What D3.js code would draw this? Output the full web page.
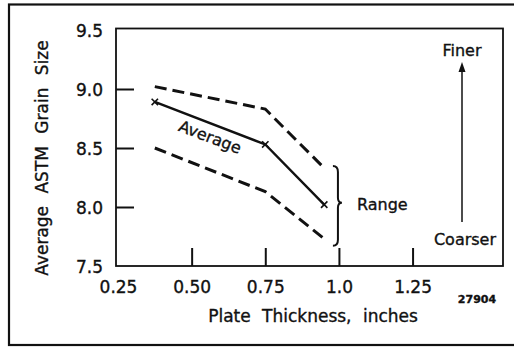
<!DOCTYPE html>
<html>
<head>
<meta charset="utf-8">
<script src="https://cdn.jsdelivr.net/npm/d3@7"></script>
<style>
  html, body { margin: 0; padding: 0; background: #fff; }
  svg { display: block; }
  text { font-family: "DejaVu Sans", sans-serif; fill: #111; stroke: #111; stroke-width: 0.35px; }
</style>
</head>
<body>
<svg id="chart" width="514" height="347"></svg>
<script>
// Plate thickness (inches) and grain size measurements
const thickness = [0.375, 0.75, 0.95];
const averageGrain = [8.89, 8.53, 8.02];
const upperRange = [9.02, 8.83, 8.33];
const lowerRange = [8.50, 8.13, 7.73];
const xTicks = [0.25, 0.50, 0.75, 1.0, 1.25];
const xTickLabels = ["0.25", "0.50", "0.75", "1.0", "1.25"];
const yTicks = [7.5, 8.0, 8.5, 9.0, 9.5];
const yTickLabels = ["7.5", "8.0", "8.5", "9.0", "9.5"];

const svg = d3.select("#chart");
const ink = "#111";

// outer frame
svg.append("rect")
  .attr("x", 9).attr("y", 4.5).attr("width", 520).attr("height", 340.5)
  .attr("fill", "none").attr("stroke", ink).attr("stroke-width", 2.2);

const plot = { left: 116, right: 503, top: 28.5, bottom: 266 };

const x = d3.scaleLinear().domain([0.25, 1.557]).range([plot.left + 2, plot.right]);
const y = d3.scaleLinear().domain([7.5, 9.5]).range([plot.bottom, 30]);

// plot box
svg.append("rect")
  .attr("x", plot.left).attr("y", plot.top)
  .attr("width", plot.right - plot.left).attr("height", plot.bottom - plot.top)
  .attr("fill", "none").attr("stroke", ink).attr("stroke-width", 1.8);

// x axis: inward ticks, labels below
const xAxis = d3.axisBottom(x).tickValues(xTicks)
  .tickSize(-18).tickPadding(26)
  .tickFormat((d, i) => xTickLabels[i]);
const gx = svg.append("g").attr("transform", `translate(0,${plot.bottom})`).call(xAxis);
gx.select(".domain").remove();
gx.selectAll(".tick line").attr("stroke", ink).attr("stroke-width", 2)
  .filter(d => d === 0.25).remove();
gx.selectAll(".tick text").attr("font-size", 17).attr("fill", ink)
  .attr("font-family", "DejaVu Sans, sans-serif").attr("dy", 0).attr("y", 27);

// y axis: inward ticks, labels left
const yAxis = d3.axisLeft(y).tickValues(yTicks)
  .tickSize(-18).tickPadding(13)
  .tickFormat((d, i) => yTickLabels[i]);
const gy = svg.append("g").attr("transform", `translate(${plot.left},0)`).call(yAxis);
gy.select(".domain").remove();
gy.selectAll(".tick line").attr("stroke", ink).attr("stroke-width", 2)
  .filter(d => d === 7.5 || d === 9.5).remove();
gy.selectAll(".tick text").attr("font-size", 17).attr("fill", ink)
  .attr("font-family", "DejaVu Sans, sans-serif").attr("dy", "0.36em");

// axis titles
svg.append("text")
  .attr("x", 313).attr("y", 322).attr("text-anchor", "middle")
  .attr("font-size", 17).attr("word-spacing", 6)
  .text("Plate Thickness, inches");
svg.append("text")
  .attr("transform", "translate(48,158) rotate(-90)")
  .attr("text-anchor", "middle").attr("font-size", 17).attr("word-spacing", 7)
  .text("Average ASTM Grain Size");

svg.append("text")
  .attr("x", 477).attr("y", 303).attr("text-anchor", "middle")
  .attr("font-size", 11).attr("font-weight", "bold")
  .text("27904");

// data lines
const line = vals => d3.line()
  .x((d, i) => x(thickness[i]))
  .y(d => y(d))(vals);

svg.append("path").attr("d", line(upperRange))
  .attr("fill", "none").attr("stroke", ink).attr("stroke-width", 3)
  .attr("stroke-dasharray", "12 6");
svg.append("path").attr("d", line(lowerRange))
  .attr("fill", "none").attr("stroke", ink).attr("stroke-width", 3)
  .attr("stroke-dasharray", "12 6");
svg.append("path").attr("d", line(averageGrain))
  .attr("fill", "none").attr("stroke", ink).attr("stroke-width", 2.4);

// x markers at average points
const m = 3.2;
svg.selectAll("path.mark").data(averageGrain).enter().append("path")
  .attr("class", "mark")
  .attr("d", (d, i) => {
    const cx = x(thickness[i]), cy = y(d);
    return `M${cx - m},${cy - m}L${cx + m},${cy + m}M${cx - m},${cy + m}L${cx + m},${cy - m}`;
  })
  .attr("stroke", ink).attr("stroke-width", 1.6).attr("fill", "none");

// label along the average line
const ax0 = x(thickness[0]), ay0 = y(averageGrain[0]);
const ax1 = x(thickness[1]), ay1 = y(averageGrain[1]);
const ang = Math.atan2(ay1 - ay0, ax1 - ax0) * 180 / Math.PI;
svg.append("text")
  .attr("transform", `translate(${(ax0 + ax1) / 2 - 2},${(ay0 + ay1) / 2 + 19}) rotate(${ang})`)
  .attr("text-anchor", "middle").attr("font-size", 16)
  .text("Average");

// brace spanning the range at the thickest plate
const bx = x(1.0) - 1;
const bTop = y(upperRange[2]) - 2, bBot = y(lowerRange[2]) + 7;
const bMid = y(averageGrain[2]) - 2;
svg.append("path")
  .attr("d", `M${bx - 5},${bTop} Q${bx},${bTop} ${bx},${bTop + 6} L${bx},${bMid - 5} Q${bx},${bMid} ${bx + 4},${bMid} Q${bx},${bMid} ${bx},${bMid + 5} L${bx},${bBot - 6} Q${bx},${bBot} ${bx - 5},${bBot}`)
  .attr("fill", "none").attr("stroke", ink).attr("stroke-width", 2);
svg.append("text")
  .attr("x", 357).attr("y", 210).attr("font-size", 16)
  .text("Range");

// coarser -> finer arrow
const arrX = 462;
svg.append("line")
  .attr("x1", arrX).attr("x2", arrX).attr("y1", 222).attr("y2", 70)
  .attr("stroke", ink).attr("stroke-width", 1.5);
svg.append("path")
  .attr("d", `M${arrX},62 L${arrX - 3.5},72 L${arrX + 3.5},72 Z`)
  .attr("fill", ink);
svg.append("text")
  .attr("x", arrX).attr("y", 56).attr("text-anchor", "middle").attr("font-size", 16)
  .text("Finer");
svg.append("text")
  .attr("x", arrX + 3).attr("y", 245).attr("text-anchor", "middle").attr("font-size", 16)
  .text("Coarser");
</script>
</body>
</html>
